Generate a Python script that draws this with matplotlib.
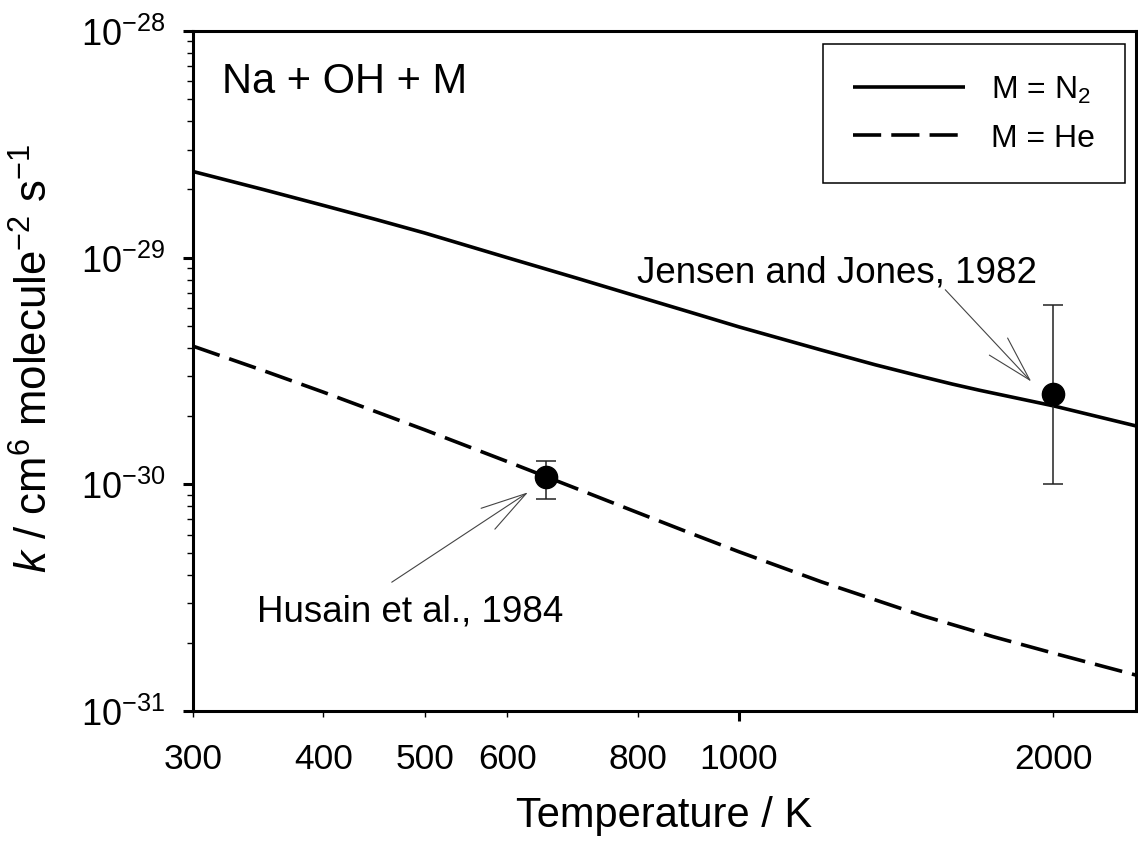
import matplotlib
matplotlib.use("Agg")
from matplotlib import pyplot as plt
from matplotlib.patches import ArrowStyle
from matplotlib.ticker import NullFormatter

# rate coefficient curves
temp_n2 = [300, 350, 400, 450, 500, 600, 700, 800, 900, 1000, 1200, 1350, 1500, 1600, 1700, 2000, 2400]
k_n2 = [2.40e-29, 2.00e-29, 1.70e-29, 1.47e-29, 1.285e-29, 1.00e-29, 8.11e-30, 6.74e-30,
        5.73e-30, 4.95e-30, 3.91e-30, 3.37e-30, 2.98e-30, 2.77e-30, 2.60e-30, 2.22e-30, 1.81e-30]

temp_he = [300, 350, 400, 500, 600, 700, 800, 900, 1000, 1200, 1500, 1750, 2000, 2400]
k_he = [4.07e-30, 3.18e-30, 2.55e-30, 1.74e-30, 1.26e-30, 0.955e-30, 0.75e-30, 0.607e-30,
        0.504e-30, 0.371e-30, 0.263e-30, 0.213e-30, 0.180e-30, 0.144e-30]

# experimental points
exp_labels = ["Husain et al., 1984", "Jensen and Jones, 1982"]
exp_temp = [653, 2000]
exp_k = [1.08e-30, 2.50e-30]
exp_k_low = [0.86e-30, 1.0e-30]
exp_k_high = [1.27e-30, 6.2e-30]

xtick_values = [300, 400, 500, 600, 800, 1000, 2000]
ytick_values = [1e-31, 1e-30, 1e-29, 1e-28]
legend_labels = ["M = N$_2$", "M = He"]

plt.rcParams['font.family'] = ['Liberation Sans', 'DejaVu Sans']
plt.rcParams['mathtext.fontset'] = 'custom'
plt.rcParams['mathtext.rm'] = 'Liberation Sans'
plt.rcParams['mathtext.it'] = 'Liberation Sans:italic'
plt.rcParams['mathtext.bf'] = 'Liberation Sans:bold'

fig = plt.figure(figsize=(11.38, 8.53), dpi=100)
ax = fig.add_axes([193 / 1138, 141 / 853, 943 / 1138, 680 / 853])

ln_n2, = ax.plot(temp_n2, k_n2, color='black', lw=2.6, solid_capstyle='butt')
ln_he, = ax.plot(temp_he, k_he, color='black', lw=2.6, linestyle=(0, (7.8, 2.8)))

yerr = [[k - lo for k, lo in zip(exp_k, exp_k_low)],
        [hi - k for k, hi in zip(exp_k, exp_k_high)]]
ax.errorbar(exp_temp, exp_k, yerr=yerr, fmt='o', color='black', ecolor='#222222',
            elinewidth=1.1, capsize=7.5, capthick=1.1, markersize=16, zorder=5)

ax.set_xscale('log')
ax.set_yscale('log')
ax.set_xlim(300, 2400)
ax.set_ylim(1e-31, 1e-28)

# x ticks: 1000 is the only major one, the rest are labelled minors
ax.set_xticks([1000])
ax.set_xticklabels(['1000'])
ax.set_xticks([t for t in xtick_values if t != 1000], minor=True)
ax.set_xticklabels([str(t) for t in xtick_values if t != 1000], minor=True)

# y ticks: decades plus 2..9 minors
ax.set_yticks(ytick_values)
ax.set_yticks([m * d for d in ytick_values[:-1] for m in range(2, 10)], minor=True)
ax.yaxis.set_minor_formatter(NullFormatter())

ax.tick_params(axis='both', which='major', direction='out', length=7, width=2.2)
ax.tick_params(axis='both', which='minor', direction='out', length=4, width=1.0)
ax.tick_params(axis='x', which='minor', labelsize=25.5, pad=18.5)
ax.tick_params(axis='x', which='major', labelsize=25.5, pad=15.5)
ax.tick_params(axis='y', which='major', labelsize=26, pad=13)

for sp in ax.spines.values():
    sp.set_linewidth(2.2)

ax.set_xlabel("Temperature / K", fontsize=30, labelpad=14)
ax.set_ylabel(r"$k$ / cm$^6$ molecule$^{-2}$ s$^{-1}$", fontsize=31.5)
ax.yaxis.set_label_coords(-0.145, 0.52)

ax.text(0.031, 0.91, "Na + OH + M", transform=ax.transAxes, fontsize=30, va='baseline')

leg = ax.legend([ln_n2, ln_he], legend_labels, loc='upper right',
                bbox_to_anchor=(0.9883, 0.981), borderaxespad=0, fontsize=23,
                handlelength=3.5, handletextpad=0.8, borderpad=0.95, labelspacing=0.55,
                fancybox=False, framealpha=1, edgecolor='black')
leg.get_frame().set_linewidth(1.1)

# annotations with open arrowheads
head = ArrowStyle("->", head_length=33, head_width=9)
ax.text(1240, 7.81e-30, exp_labels[1], fontsize=26.5, ha='center', va='baseline')
ax.annotate('', xy=(1905, 2.84e-30), xytext=(1576, 7.22e-30),
            arrowprops=dict(arrowstyle=head, mutation_scale=1, color='#444444',
                            lw=0.8, shrinkA=0, shrinkB=0))
ax.text(484, 0.25e-30, exp_labels[0], fontsize=26.5, ha='center', va='baseline')
ax.annotate('', xy=(628, 0.922e-30), xytext=(465, 0.37e-30),
            arrowprops=dict(arrowstyle=head, mutation_scale=1, color='#444444',
                            lw=0.8, shrinkA=0, shrinkB=0))

fig.savefig("out.png", dpi=100, facecolor='white')
